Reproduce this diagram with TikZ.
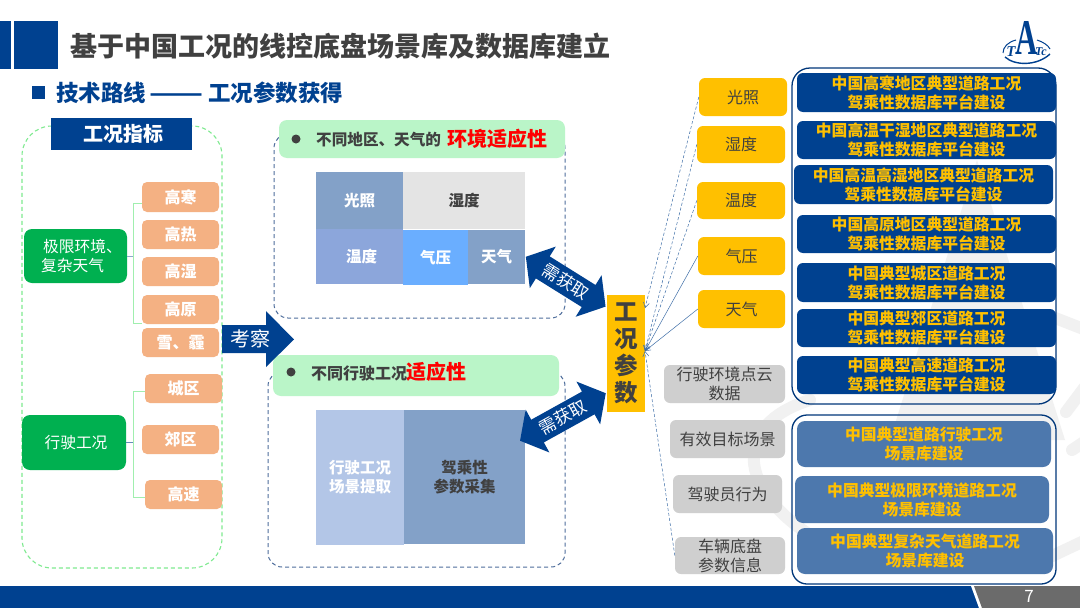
\documentclass[tikz,border=0pt]{standalone}
\usepackage{graphicx}
\usepackage{fontspec}
\setmainfont{Noto Sans CJK SC}
\newfontfamily\logofont{Liberation Serif}
\usetikzlibrary{arrows.meta}
\definecolor{navy}{HTML}{004190}
\definecolor{darktxt}{HTML}{404040}
\definecolor{gold}{HTML}{FFC000}
\definecolor{peach}{HTML}{F4B183}
\definecolor{leaf}{HTML}{00B050}
\definecolor{mint}{HTML}{BAF5C8}
\definecolor{midblue}{HTML}{4D78AD}
\definecolor{steel}{HTML}{83A1C8}
\definecolor{dashblue}{HTML}{4F6E9C}
\definecolor{linkblue}{HTML}{3F6FA8}
\definecolor{pale}{HTML}{F1F1F1}
\definecolor{cellwarm}{HTML}{8CA6DB}
\definecolor{cellsky}{HTML}{6AAEFF}
\definecolor{celllight}{HTML}{B3C6E7}
\definecolor{limeline}{HTML}{A0EFAE}
\definecolor{limedash}{HTML}{7FEA90}
\newcommand{\fs}[2]{\fontsize{#1}{#2}\selectfont}
\newcommand{\rn}[7][]{%
 \pgfmathsetmacro\rnw{#5-#3}\pgfmathsetmacro\rnh{#6-#4}%
 \pgfmathsetmacro\rncx{(#3+#5)/2}\pgfmathsetmacro\rncy{(#4+#6)/2}%
 \node[inner sep=0pt,align=center,minimum width=\rnw pt,minimum height=\rnh pt,#1] (#2) at (\rncx,\rncy) {#7};}
\newcommand{\dblarrow}[4]{% half length, x, y, angle
 \fill[navy,shift={(#2,#3)},rotate=#4] (-#1,0) -- ({-#1+20},24.5) -- ({-#1+20},13) -- ({#1-20},13) -- ({#1-20},24.5) -- (#1,0) -- ({#1-20},-24.5) -- ({#1-20},-13) -- ({-#1+20},-13) -- ({-#1+20},-24.5) -- cycle;}
\tikzset{
 peachbox/.style={fill=peach,rounded corners=5pt,text=white,font=\fs{16}{19}\bfseries},
 leafbox/.style={fill=leaf,rounded corners=8pt,text=white,font=\fs{15.7}{19}},
 yellowbox/.style={fill=gold,rounded corners=6pt,text=darktxt,font=\fs{16}{19}},
 graybox/.style={fill=black!19,rounded corners=6pt,text=darktxt,font=\fs{16}{19}},
 navybox/.style={fill=navy,rounded corners=6pt,text=gold,font=\fs{15.8}{19}\bfseries},
 bluebox/.style={fill=midblue,rounded corners=8pt,text=gold,font=\fs{15.8}{19}\bfseries},
 cellbox/.style={font=\fs{15.5}{19}\bfseries},
 frameline/.style={draw=navy!85!black,line width=1.3pt},
 mintbar/.style={fill=mint,rounded corners=8pt},
 dashframe/.style={draw=dashblue,line width=1pt,rounded corners=14pt,dash pattern=on 4pt off 3pt},
 greenbranch/.style={limeline,line width=1pt},
 linkline/.style={draw=linkblue,line width=.5pt,densely dashed,-{Straight Barb[length=5pt,width=6pt]}},
 bulletdot/.style={circle,fill=darktxt,inner sep=0pt,minimum size=9pt},
 lefttxt/.style={anchor=west,inner sep=0pt},
 needlabel/.style={text=white,inner sep=0pt,font=\fs{17}{20}},
 watermark/.style={draw=pale,line width=12pt,line cap=round},
}
\begin{document}
\begin{tikzpicture}[x=1pt,y=-1pt]
\useasboundingbox (0,0) rectangle (1080,608);
\fill[white] (0,0) rectangle (1080,608);
% watermark
\fill[pale] (977,160) -- (890,440) -- (1065,440) -- cycle;
\draw[watermark] (810,400) .. controls (730,425) and (740,490) .. (810,535);
\draw[watermark] (1050,316) -- (1086,330);
\draw[watermark] (1066,412) -- (1084,388);
\draw[watermark] (1072,450) -- (1084,442);
\draw[watermark] (1050,557) -- (1086,540);
% header
\fill[navy] (0,21) rectangle (11,69);
\fill[navy] (14,21) rectangle (58,69);
\node[lefttxt,text=darktxt,font=\fs{27}{30}\bfseries] (title) at (70,46) {基于中国工况的线控底盘场景库及数据库建立};
\fill[navy] (32,86) rectangle (45,99);
\node[lefttxt,text=navy,font=\fs{22.5}{26}\bfseries] (sub) at (56,93) {技术路线\hspace{3pt}\scalebox{1.4}[1]{——}\hspace{5pt}工况参数获得};
% logo
\draw[navy,line width=1.4pt] (1005,57) .. controls (1015,66) and (1037,66) .. (1050,54);
\draw[navy,line width=1pt] (1003,53) .. controls (1003,47) and (1008,42) .. (1016,40);
\draw[navy,line width=1pt] (1037,40) .. controls (1043,42) and (1048,45) .. (1050,49);
\node[text=navy,font=\logofont\fs{50}{50}\bfseries,inner sep=0pt,xscale=.62] (logoA) at (1026.5,38) {A};
\node[text=navy,font=\logofont\fs{15}{15}\bfseries\itshape,inner sep=0pt] (logoT) at (1011,52) {T};
\node[text=navy,font=\logofont\fs{12}{12}\bfseries\itshape,inner sep=0pt] (logoTc) at (1041,52) {Tc};
% left panel
\rn[draw=limedash,line width=1.1pt,rounded corners=30pt,dash pattern=on 4pt off 3pt]{leftframe}{22}{126}{222}{568}{}
\rn[fill=navy,text=white,font=\fs{20}{24}\bfseries]{leftlabel}{51}{118}{192}{150}{\hspace*{4pt}工况指标}
\rn[leafbox]{ext}{24}{229}{127}{283}{}
\node[lefttxt,text=white,font=\fs{15.7}{19},align=left] (extlabel) at (41,256) {\hspace*{2pt}极限环境、\\复杂天气};
\rn[leafbox]{drv}{22}{415}{126}{470}{\hspace*{4pt}行驶工况}
\rn[peachbox]{e1}{142}{182}{219}{212}{高寒}
\rn[peachbox]{e2}{142}{220}{219}{249}{高热}
\rn[peachbox]{e3}{142}{257}{219}{286}{高湿}
\rn[peachbox]{e4}{142}{295}{219}{324}{高原}
\rn[peachbox]{e5}{142}{328}{219}{357}{雪、霾}
\rn[peachbox]{d1}{145}{374}{222}{403}{城区}
\rn[peachbox]{d2}{142}{425}{219}{454}{郊区}
\rn[peachbox]{d3}{145}{480}{222}{509}{高速}
\coordinate (bu) at (133,203);
\coordinate (bl) at (133,323);
\coordinate (cu) at (133,391);
\coordinate (cl) at (133,497);
\draw[greenbranch] (e1.west |- bu) -- (bu) -- (bl) -- (e4.west |- bl);
\draw[draw=linkblue!60,line width=.6pt] (ext.east) -- (ext.east -| bu);
\draw[greenbranch] (d1.west |- cu) -- (cu) -- (cl) -- (d3.west |- cl);
\draw[draw=linkblue!80,line width=.7pt] (drv.east) -- (drv.east -| cu);
% upper middle panel
\rn[dashframe]{envframe}{274}{134}{565}{318}{}
\rn[mintbar]{envbar}{279}{120}{565}{158}{}
\node[bulletdot] (envdot) at (296,139) {};
\node[lefttxt,text=darktxt,font=\fs{15.6}{19}\bfseries] (envt1) at (316,140) {不同地区、天气的};
\node[lefttxt,text=red,font=\fs{20}{24}\bfseries] (envt2) at (447,139) {环境适应性};
\rn[cellbox,fill=steel,text=white]{c1}{316}{172}{403}{229}{光照}
\rn[cellbox,fill=black!10.5,text=darktxt]{c2}{403}{172}{525}{229}{湿度}
\rn[cellbox,fill=cellwarm,text=white]{c3}{316}{229}{403}{284}{\hspace*{4pt}温度}
\rn[cellbox,fill=cellsky,text=white]{c4}{403}{230}{468}{285}{气压}
\rn[cellbox,fill=steel,text=white]{c5}{468}{230}{525}{284}{天气}
% lower middle panel
\rn[dashframe]{drvframe}{268}{372}{565}{567}{}
\rn[mintbar]{drvbar}{273}{355}{559}{396}{}
\node[bulletdot] (drvdot) at (291,372) {};
\node[lefttxt,text=darktxt,font=\fs{16}{19}\bfseries] (drvt1) at (311,373) {不同行驶工况};
\node[lefttxt,text=red,font=\fs{20}{24}\bfseries] (drvt2) at (406,372) {适应性};
\rn[cellbox,fill=celllight,text=white]{c6}{316}{410}{404}{545}{行驶工况\\场景提取}
\rn[cellbox,fill=steel,text=darktxt]{c7}{404}{410}{525}{544}{驾乘性\\参数采集}
% arrows
\fill[navy] (222,325) -- (266,325) -- (266,311) -- (294,339.5) -- (266,367) -- (266,353) -- (222,353) -- cycle;
\node[text=white,font=\fs{20}{24},inner sep=0pt] (kclabel) at (250.5,339) {考察};
\dblarrow{47}{565.7}{281.7}{-32}
\node[needlabel,rotate=-32] (need1) at (565.7,281.7) {需获取};
\dblarrow{49}{562.9}{417}{29}
\node[needlabel,rotate=29] (need2) at (562.9,417) {需获取};
% central box
\rn[fill=gold,text=darktxt,font=\fs{23.5}{27}\bfseries]{hubbox}{607}{295}{645}{412}{工\\况\\参\\数}
\coordinate (hubtop) at (645,308);
\coordinate (hub) at (645,351);
% parameter boxes
\rn[yellowbox]{y1}{699}{78}{787}{116}{光照}
\rn[yellowbox]{y2}{697}{126}{785}{163}{湿度}
\rn[yellowbox]{y3}{697}{182}{785}{219}{温度}
\rn[yellowbox]{y4}{698}{237}{785}{275}{气压}
\rn[yellowbox]{y5}{698}{290}{785}{328}{天气}
\rn[graybox]{g1}{664}{365}{785}{403}{行驶环境点云\\数据}
\rn[graybox]{g2}{670}{420}{785}{458}{有效目标场景}
\rn[graybox]{g3}{673}{475}{782}{513}{驾驶员行为}
\rn[graybox]{g4}{675}{537}{785}{574}{车辆底盘\\参数信息}
\draw[linkline] (y1.west) -- (hubtop);
\draw[linkline] (y2.west) -- (hub);
\draw[linkline] (y3.west) -- (hub);
\draw[linkline,solid] (y4.west) -- (hub);
\draw[linkline,solid] (y5.west) -- (hub);
\draw[linkline] (g4.west) -- (hub);
% right frames
\rn[frameline,rounded corners=18pt]{rf1}{792}{68}{1056}{404}{}
\rn[frameline,rounded corners=15pt]{rf2}{792}{415}{1056}{584}{}
\rn[navybox]{n1}{797}{73}{1056}{112}{中国高寒地区典型道路工况\\驾乘性数据库平台建设}
\rn[navybox]{n2}{797}{121}{1056}{159}{中国高温干湿地区典型道路工况\\驾乘性数据库平台建设}
\rn[navybox]{n3}{794}{165}{1053}{204}{中国高温高湿地区典型道路工况\\驾乘性数据库平台建设}
\rn[navybox]{n4}{797}{215}{1056}{253}{中国高原地区典型道路工况\\驾乘性数据库平台建设}
\rn[navybox]{n5}{797}{263}{1056}{302}{中国典型城区道路工况\\驾乘性数据库平台建设}
\rn[navybox]{n6}{797}{309}{1056}{347}{中国典型郊区道路工况\\驾乘性数据库平台建设}
\rn[navybox]{n7}{797}{356}{1056}{394}{中国典型高速道路工况\\驾乘性数据库平台建设}
\rn[bluebox]{b1}{797}{421}{1051}{467}{中国典型道路行驶工况\\场景库建设}
\rn[bluebox]{b2}{795}{476}{1049}{523}{中国典型极限环境道路工况\\场景库建设}
\rn[bluebox]{b3}{797}{528}{1053}{574}{中国典型复杂天气道路工况\\场景库建设}
% footer
\fill[navy] (0,586) rectangle (1080,608);
\fill[white] (971,586) -- (975,586) -- (983,608) -- (979,608) -- cycle;
\fill[black!58] (974,586) -- (1080,586) -- (1080,608) -- (982,608) -- cycle;
\node[text=white,font=\fs{17}{20},inner sep=0pt] (pageno) at (1029,596) {7};
\end{tikzpicture}
\end{document}
